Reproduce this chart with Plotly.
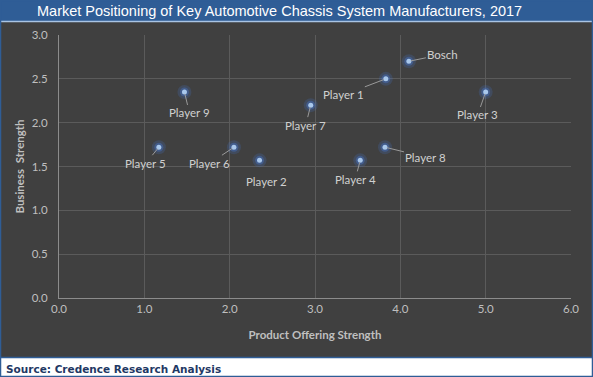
import plotly.graph_objects as go

names = ["Bosch", "Player 1", "Player 3", "Player 9", "Player 7",
         "Player 5", "Player 6", "Player 2", "Player 4", "Player 8"]
product_strength = [4.10, 3.83, 5.00, 1.47, 2.95, 1.17, 2.05, 2.35, 3.53, 3.82]
business_strength = [2.70, 2.50, 2.35, 2.35, 2.20, 1.72, 1.72, 1.57, 1.57, 1.72]
# label offsets (pixels) from the point
label_dx = [34, -42, -8, 5, -5, -13, -24, 7, -5, 41]
label_dy = [-7, 16, 23, 21, 20, 16, 16, 21, 19, 10]

W, H = 593, 377
L, R, T, B = 59, 22, 35, 79
PW, PH = W - L - R, H - T - B

def xp(px):
    return (px - L) / PW

def yp(py):
    return (H - B - py) / PH

fig = go.Figure()
# glow
fig.add_trace(go.Scatter(x=product_strength, y=business_strength, mode="markers",
                         marker=dict(size=14, color="rgba(68,114,196,0.22)", line=dict(width=0)),
                         hoverinfo="skip", showlegend=False))
fig.add_trace(go.Scatter(x=product_strength, y=business_strength, mode="markers",
                         marker=dict(size=9, color="rgba(68,114,196,0.45)", line=dict(width=0)),
                         hoverinfo="skip", showlegend=False))
fig.add_trace(go.Scatter(x=product_strength, y=business_strength, mode="markers",
                         marker=dict(size=5, color="#A9C8EC", line=dict(width=0)),
                         text=names, showlegend=False))

annotations = []
for n, x, y, dx, dy in zip(names, product_strength, business_strength, label_dx, label_dy):
    annotations.append(dict(x=x, y=y, xref="x", yref="y", text=n, showarrow=True,
                            ax=dx, ay=dy, arrowhead=0, arrowwidth=1, arrowcolor="#9a9a9a",
                            standoff=2, font=dict(family="Lato", size=11.5, color="#d0d0d0")))

annotations.append(dict(text="Market Positioning of Key Automotive Chassis System Manufacturers, 2017",
                        xref="paper", yref="paper", x=xp(279), y=yp(11), showarrow=False,
                        xanchor="center", yanchor="middle",
                        font=dict(family="Liberation Sans", size=14.5, color="white")))
annotations.append(dict(text="<b>Source: Credence Research Analysis</b>",
                        xref="paper", yref="paper", x=xp(4), y=yp(368.5), showarrow=False,
                        xanchor="left", yanchor="middle",
                        font=dict(family="DejaVu Sans", size=10.5, color="#1F3864")))

shapes = [
    dict(type="rect", xref="paper", yref="paper", x0=xp(0), x1=xp(W), y0=yp(0), y1=yp(21),
         fillcolor="#2F5D96", line=dict(width=0), layer="above"),
    dict(type="line", xref="paper", yref="paper", x0=xp(0), x1=xp(W), y0=yp(21.5), y1=yp(21.5),
         line=dict(color="#A9C4E4", width=1.5), layer="above"),
    dict(type="rect", xref="paper", yref="paper", x0=xp(0), x1=xp(W), y0=yp(357), y1=yp(377),
         fillcolor="white", line=dict(width=0), layer="above"),
    dict(type="line", xref="paper", yref="paper", x0=xp(0), x1=xp(W), y0=yp(357.5), y1=yp(357.5),
         line=dict(color="#2F5D96", width=1.5), layer="above"),
    dict(type="rect", xref="paper", yref="paper", x0=xp(0.5), x1=xp(W - 0.5), y0=yp(0.5), y1=yp(H - 0.5),
         fillcolor="rgba(0,0,0,0)", line=dict(color="#2F5D96", width=1.5), layer="above"),
]

fig.update_layout(
    width=W, height=H,
    margin=dict(l=L, r=R, t=T, b=B, pad=0),
    paper_bgcolor="#404040", plot_bgcolor="#404040",
    annotations=annotations, shapes=shapes,
    font=dict(family="Lato", color="#bfbfbf", size=11.5),
    xaxis=dict(range=[0, 6], dtick=1, tick0=0, tickformat=".1f", showgrid=True,
               gridcolor="#5b5b5b", gridwidth=1, zeroline=False, showline=True,
               linecolor="#8c8c8c", linewidth=1, ticks="", fixedrange=True,
               tickfont=dict(family="Lato", size=11.5, color="#bfbfbf"),
               title=dict(text="<b>Product Offering Strength</b>", standoff=17,
                          font=dict(family="Lato", size=11.5, color="#bfbfbf"))),
    yaxis=dict(range=[0, 3], dtick=0.5, tick0=0, tickformat=".1f", showgrid=True,
               gridcolor="#5b5b5b", gridwidth=1, zeroline=False, showline=True,
               linecolor="#8c8c8c", linewidth=1, ticks="", ticklabelstandoff=8, fixedrange=True,
               tickfont=dict(family="Lato", size=11.5, color="#bfbfbf"),
               title=dict(text="<b>Business  Strength</b>", standoff=4,
                          font=dict(family="Lato", size=11.5, color="#bfbfbf"))),
)

fig.write_html("out.html", config={"displayModeBar": False, "staticPlot": True},
               post_script="document.body.style.margin='0';document.body.style.overflow='hidden';")
